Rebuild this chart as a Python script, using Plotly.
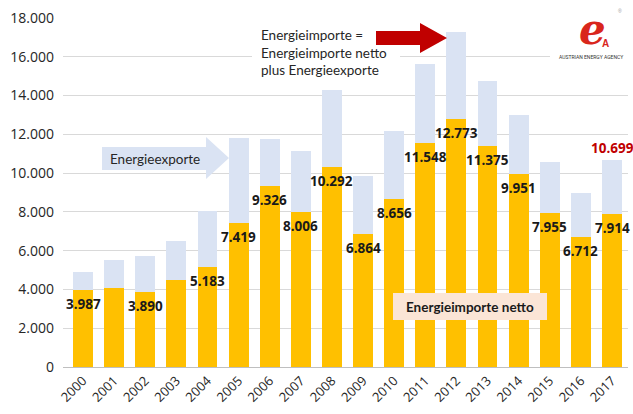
import plotly.graph_objects as go

years = [str(y) for y in range(2000, 2018)]
net_imports = [3987, 4050, 3890, 4490, 5183, 7419, 9326, 8006, 10292, 6864,
               8656, 11548, 12773, 11375, 9951, 7955, 6712, 7914]
total_imports = [4900, 5500, 5750, 6500, 8050, 11800, 11750, 11150, 14300, 9850,
                 12150, 15650, 17300, 14750, 13000, 10550, 8950, 10699]
exports = [t - n for t, n in zip(total_imports, net_imports)]
net_labels = ["3.987", None, "3.890", None, "5.183", "7.419", "9.326", "8.006", "10.292",
              "6.864", "8.656", "11.548", "12.773", "11.375", "9.951", "7.955", "6.712", "7.914"]
total_label_2017 = "10.699"

ORANGE = "#FFC000"
LIGHTBLUE = "#DAE3F3"
RED = "#C00000"

W, H = 633, 414
L, R, T, B = 63, 5, 18, 47
PW = W - L - R
PH = H - T - B


def px(x, y):
    return (x - L) / PW, (H - B - y) / PH


fig = go.Figure()
fig.add_trace(go.Bar(x=years, y=net_imports, marker=dict(color=ORANGE, line=dict(width=0)),
                     name="Energieimporte netto", hoverinfo="x+y"))
fig.add_trace(go.Bar(x=years, y=exports, marker=dict(color=LIGHTBLUE, line=dict(width=0)),
                     name="Energieexporte", hoverinfo="x+y"))

annotations = []
for i, (n, lab) in enumerate(zip(net_imports, net_labels)):
    if lab is None:
        continue
    annotations.append(dict(x=i, y=n, text="<b>" + lab + "</b>", showarrow=False,
                            yanchor="middle", yshift=-14, xref="x", yref="y",
                            font=dict(family="Open Sans", size=13.5, color="#1a1a1a")))
annotations.append(dict(x=len(years) - 1, y=total_imports[-1], text="<b>" + total_label_2017 + "</b>",
                        showarrow=False, yanchor="bottom", yshift=1, xref="x", yref="y",
                        font=dict(family="Open Sans", size=13.5, color=RED)))


def path_from(points):
    pts = [px(x, y) for x, y in points]
    return "M " + " L ".join(f"{a:.5f},{b:.5f}" for a, b in pts) + " Z"


shapes = []
# white box behind upper text
x0, y0 = px(252, 84)
x1, y1 = px(400, 22)
shapes.append(dict(type="rect", xref="paper", yref="paper", x0=x0, y0=y0, x1=x1, y1=y1,
                   fillcolor="white", line=dict(width=0), layer="above"))
# white box behind logo
x0, y0 = px(550, 66)
x1, y1 = px(633, 0)
shapes.append(dict(type="rect", xref="paper", yref="paper", x0=x0, y0=y0, x1=x1, y1=y1,
                   fillcolor="white", line=dict(width=0), layer="above"))
# light blue block arrow "Energieexporte"
shapes.append(dict(type="path", xref="paper", yref="paper",
                   path=path_from([(102, 147), (206, 147), (206, 137), (229, 158),
                                   (206, 179), (206, 170), (102, 170)]),
                   fillcolor=LIGHTBLUE, line=dict(width=0), layer="above"))
# red block arrow
shapes.append(dict(type="path", xref="paper", yref="paper",
                   path=path_from([(376, 31), (420, 31), (420, 23), (447, 38),
                                   (420, 53), (420, 45), (376, 45)]),
                   fillcolor=RED, line=dict(width=0), layer="above"))
# peach box
x0, y0 = px(393, 320)
x1, y1 = px(547, 293)
shapes.append(dict(type="rect", xref="paper", yref="paper", x0=x0, y0=y0, x1=x1, y1=y1,
                   fillcolor="#FBE5D6", line=dict(width=0), layer="above"))

TXT = dict(family="Lato", size=13.5, color="#262626")
ax, ay = px(108, 159)
annotations.append(dict(xref="paper", yref="paper", x=ax, y=ay, text="Energieexporte",
                        showarrow=False, xanchor="left", yanchor="middle", font=TXT))
ax, ay = px(259, 25)
annotations.append(dict(xref="paper", yref="paper", x=ax, y=ay,
                        text="Energieimporte =<br>Energieimporte netto<br>plus Energieexporte",
                        showarrow=False, xanchor="left", yanchor="top", align="left",
                        font=TXT))
ax, ay = px(470, 306.5)
annotations.append(dict(xref="paper", yref="paper", x=ax, y=ay, text="<b>Energieimporte netto</b>",
                        showarrow=False, xanchor="center", yanchor="middle",
                        font=dict(family="Lato", size=13.5, color="#1a1a1a")))
# logo
ax, ay = px(592, 29)
annotations.append(dict(xref="paper", yref="paper", x=ax, y=ay, text="<b><i>e</i></b>",
                        showarrow=False, xanchor="center", yanchor="middle",
                        font=dict(family="DejaVu Serif", size=42, color="#D9261C")))
ax, ay = px(605, 44)
annotations.append(dict(xref="paper", yref="paper", x=ax, y=ay, text="<b>A</b>",
                        showarrow=False, xanchor="center", yanchor="middle",
                        font=dict(family="Liberation Sans", size=10, color="#D9261C")))
ax, ay = px(620, 11)
annotations.append(dict(xref="paper", yref="paper", x=ax, y=ay, text="®",
                        showarrow=False, xanchor="center", yanchor="middle",
                        font=dict(family="Liberation Sans", size=5, color="#999999")))
ax, ay = px(591, 57)
annotations.append(dict(xref="paper", yref="paper", x=ax, y=ay, text="AUSTRIAN ENERGY AGENCY",
                        showarrow=False, xanchor="center", yanchor="middle",
                        font=dict(family="Roboto", size=5, color="#333333")))

fig.update_layout(
    width=W, height=H,
    margin=dict(l=L, r=R, t=T, b=B, pad=0),
    barmode="stack",
    bargap=0.36,
    showlegend=False,
    plot_bgcolor="white",
    paper_bgcolor="white",
    separators=",.",
    annotations=annotations,
    shapes=shapes,
    xaxis=dict(type="category", range=[-0.643, 17.514], tickangle=-45,
               tickfont=dict(family="Open Sans", size=13, color="#262626"),
               showgrid=False, ticks="", showline=True, linecolor="#BFBFBF", linewidth=1),
    yaxis=dict(range=[0, 18000], tickvals=list(range(0, 18001, 2000)), tickformat=",d",
               tickfont=dict(family="Open Sans", size=14, color="#262626"),
               showgrid=True, gridcolor="#D9D9D9", gridwidth=1, zeroline=False,
               ticks="", ticklabelstandoff=8),
)

fig.write_html("out.html", config={"displayModeBar": False},
               post_script="document.body.style.margin='0';")
